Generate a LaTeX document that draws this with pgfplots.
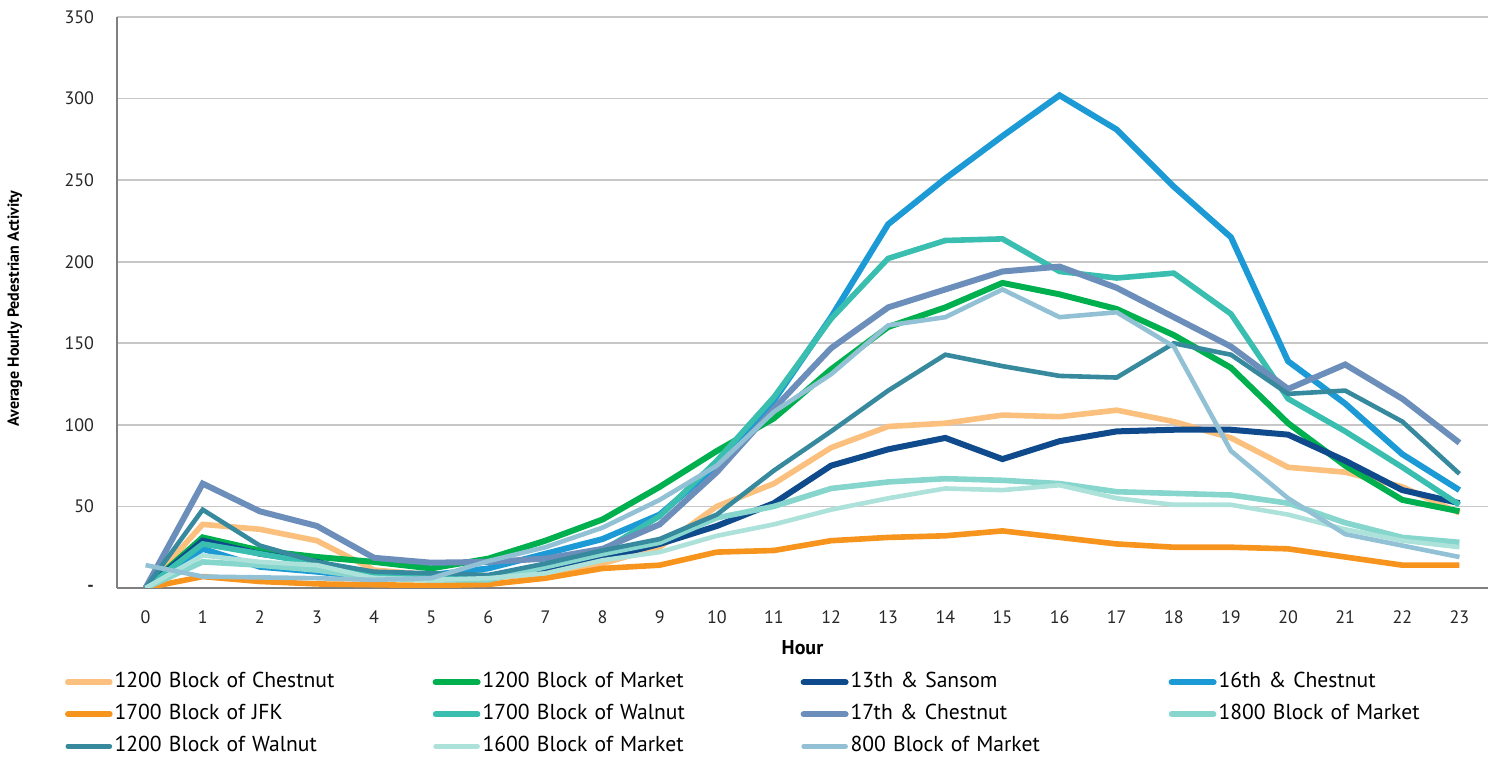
\documentclass[border=0pt]{standalone}
\usepackage{fontspec}
\setmainfont{PT Sans}
\usepackage{pgfplots}
\usepackage{pgfplotstable}
\pgfplotsset{compat=1.18}
\definecolor{cChest}{HTML}{FBC07E}
\definecolor{cMark}{HTML}{00B04F}
\definecolor{cSans}{HTML}{0E4A8C}
\definecolor{cSixt}{HTML}{1B9AD6}
\definecolor{cJFK}{HTML}{F7941E}
\definecolor{cWal17}{HTML}{39BEB0}
\definecolor{cSev}{HTML}{6C8EBA}
\definecolor{cM18}{HTML}{86D6CD}
\definecolor{cWal12}{HTML}{378A9E}
\definecolor{cM16}{HTML}{ADE2DB}
\definecolor{cM8}{HTML}{92C1D5}
\pgfplotstableread{
h  chest mark sans sixt jfk  wal17 sev  m18 wal12 m16 m8
0  0     0    0    0    0    0     0    0   0     0   14
1  39    31   29   24   7    27    64   16  48    20  7
2  36    23   21   13   4    21    47   14  26    16  6.5
3  29    19   16   10   2.5  15    38   11  16    14  6
4  11    16   7    6    2    7     18.5 6   10    6   5
5  8     12   6    8    1.5  6     15.5 5   9     5   6
6  6     18   7    12   2.2  7     16   5   8     6   16.5
7  9     29   11   21   6    14    18   13  15    9   25
8  15    42   18   30   12   23    24   21  23    17  37
9  25    62   27   45   14   44    39   28  30    22  54
10 50    84   38   75   22   78    71   43  45    32  75
11 64    104  52   115  23   117   110  50  72    39  108
12 86    134  75   166  29   165   147  61  96    48  131
13 99    160  85   223  31   202   172  65  121   55  161
14 101   172  92   251  32   213   183  67  143   61  166
15 106   187  79   277  35   214   194  66  136   60  183
16 105   180  90   302  31   194   197  64  130   63  166
17 109   171  96   281  27   190   184  59  129   55  169
18 102   155  97   246  25   193   166  58  150   51  148
19 92    135  97   215  25   168   148  57  143   51  84
20 74    101  94   139  24   116   122  52  119   45  55
21 71    75   78   113  19   96    137  40  121   36  33
22 62    54   60   82   14   74    116  31  102   29  26
23 46    47   52   60   14   51    89   28  70    25  19
}\data
\begin{document}
\begin{tikzpicture}
\begin{axis}[
  scale only axis, width=685.5pt, height=285.5pt,
  xmin=-0.5, xmax=23.5, ymin=0, ymax=350,
  xtick={0,...,23}, ytick={0,50,...,350},
  yticklabels={{\textbf{-}},50,100,150,200,250,300,350},
  axis lines=left, axis line style={-},
  x axis line style={draw=black!50, line width=1.4pt},
  y axis line style={draw=black!50, line width=1pt},
  major tick length=0pt,
  ymajorgrids, grid style={draw=black!22, line width=0.9pt},
  tick label style={font=\fontsize{9}{10}\selectfont, text=black!85},
  /pgf/number format/assume math mode=true,
  yticklabel style={xshift=-8pt},
  xticklabel style={yshift=-8pt},
  xlabel={\textbf{Hour}},
  xlabel style={font=\fontsize{10}{11}\selectfont, at={(axis description cs:0.5,0)}, anchor=center, yshift=-30pt},
  ylabel={\textbf{Average Hourly Pedestrian Activity}},
  ylabel style={font=\fontsize{8}{10}\selectfont, at={(axis description cs:-0.0744,0.49)}, anchor=center},
  legend columns=4,
  legend cell align=left,
  legend image code/.code={\draw[#1, line cap=round] (1.5pt,0pt) -- (22.5pt,0pt);},
  legend style={at={(axis description cs:-0.0379,-0.138)}, anchor=north west,
    draw=none, fill=none, inner sep=0pt, outer sep=0pt,
    font=\fontsize{10.8}{12}\selectfont,
    nodes={text width=158pt, inner xsep=1pt, inner ysep=2.5pt, text height=8pt, text depth=2.5pt},
    row sep=0.5pt},
]
\addplot[cChest, line width=2.8pt] table[x=h,y=chest]{\data};
\addlegendentry{1200 Block of Chestnut}
\addplot[cMark, line width=3pt] table[x=h,y=mark]{\data};
\addlegendentry{1200 Block of Market}
\addplot[cSans, line width=3pt] table[x=h,y=sans]{\data};
\addlegendentry{13th \& Sansom}
\addplot[cSixt, line width=3pt] table[x=h,y=sixt]{\data};
\addlegendentry{16th \& Chestnut}
\addplot[cJFK, line width=2.8pt] table[x=h,y=jfk]{\data};
\addlegendentry{1700 Block of JFK}
\addplot[cWal17, line width=2.8pt] table[x=h,y=wal17]{\data};
\addlegendentry{1700 Block of Walnut}
\addplot[cSev, line width=3pt] table[x=h,y=sev]{\data};
\addlegendentry{17th \& Chestnut}
\addplot[cM18, line width=2.8pt] table[x=h,y=m18]{\data};
\addlegendentry{1800 Block of Market}
\addplot[cWal12, line width=2.3pt] table[x=h,y=wal12]{\data};
\addlegendentry{1200 Block of Walnut}
\addplot[cM16, line width=2.3pt] table[x=h,y=m16]{\data};
\addlegendentry{1600 Block of Market}
\addplot[cM8, line width=2.3pt] table[x=h,y=m8]{\data};
\addlegendentry{800 Block of Market}
\end{axis}
\pgfresetboundingbox
\path[use as bounding box] ([shift={(-58.5pt,-85.5pt)}]current axis.south west) rectangle ([shift={(5.5pt,8.5pt)}]current axis.north east);
\end{tikzpicture}
\end{document}
